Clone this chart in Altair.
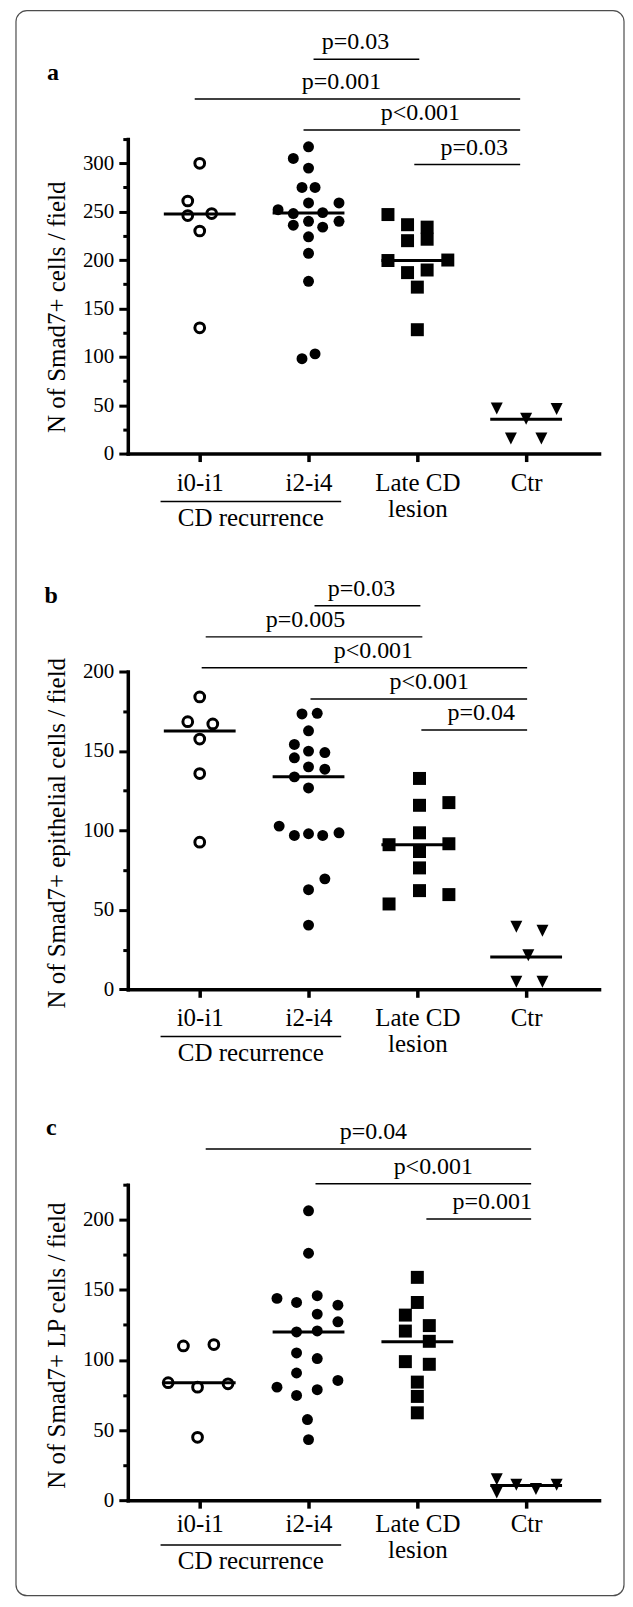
import json
import altair as alt
import pandas as pd

FONT = "Liberation Serif"
INK = "black"

# ---------------- shared categories ----------------
category_labels = ["i0-i1", "i2-i4", "Late CD|lesion", "Ctr"]
group_label = "CD recurrence"
group_span = [0.64, 2.30]          # underline under i0-i1 .. i2-i4
X_LO, X_HI = 0.339, 4.67
HALF_MEDIAN = 0.33

# ---------------- panel a ----------------
a_title = "N of Smad7+ cells / field"
a_i01 = [300, 261, 246, 248, 230, 130]
a_i01_off = [0, -0.11, -0.11, 0.11, 0, 0]
a_i24 = [317, 305, 295, 275, 275, 259, 259, 252, 248, 249, 240, 236, 234, 240, 224, 207, 178, 98, 103]
a_i24_off = [0, -0.14, 0, -0.06, 0.06, 0, 0.28, -0.28, -0.14, 0.13, 0, -0.14, 0.13, 0.28, 0, 0, 0, -0.06, 0.06]
a_late = [247, 236.5, 234, 221.5, 220, 199.5, 200, 187, 189.7, 172, 128]
a_late_off = [-0.27, -0.09, 0.09, 0.09, -0.09, -0.27, 0.28, -0.09, 0.09, 0, 0]
a_ctr = [46.5, 36, 46, 15.5, 15.5]
a_ctr_off = [-0.27, 0, 0.28, -0.14, 0.14]
a_medians = [247.5, 248.5, 199.5, 35.5]
a_p_text = ["p=0.03", "p=0.001", "p<0.001", "p=0.03"]
a_p_from = [2.046, 0.954, 1.954, 2.972]
a_p_to = [3.018, 3.945, 3.945, 3.945]
a_p_level = [407.6, 366.3, 334.3, 298.6]
a_p_textx = [2.431, 2.303, 3.028, 3.523]

# ---------------- panel b ----------------
b_title = "N of Smad7+ epithelial cells / field"
b_i01 = [184, 168.4, 167, 157.5, 135.8, 92.6]
b_i01_off = [0, -0.11, 0.12, 0, 0, 0]
b_i24 = [173.3, 173.7, 162.7, 154.1, 149.9, 149, 145.7, 140, 138.5, 133.7, 126.7,
         102.7, 96.8, 97.9, 96.8, 98.5, 69.5, 62.7, 40.4]
b_i24_off = [-0.06, 0.08, 0, -0.13, 0, 0.15, -0.13, 0, 0.15, -0.13, 0,
             -0.27, -0.13, 0, 0.13, 0.28, 0.15, 0, 0]
b_late = [132.7, 117.5, 115.8, 98.5, 91, 91.6, 86.7, 76.4, 62.1, 59.6, 53.7]
b_late_off = [0.02, 0.29, 0.02, 0.02, -0.26, 0.29, 0.02, 0.02, 0.02, 0.29, -0.26]
b_ctr = [39.4, 36.8, 21.5, 4.8, 4.8]
b_ctr_off = [-0.09, 0.15, 0.02, -0.09, 0.15]
b_medians = [162.5, 133.7, 91, 20.4]
b_p_text = ["p=0.03", "p=0.005", "p<0.001", "p<0.001", "p=0.04"]
b_p_from = [2.055, 1.055, 1.018, 2.018, 3.037]
b_p_to = [3.028, 3.046, 4.009, 4.009, 4.009]
b_p_level = [241.4, 221.8, 202.3, 182.7, 163.2]
b_p_textx = [2.486, 1.972, 2.596, 3.11, 3.587]

# ---------------- panel c ----------------
c_title = "N of Smad7+ LP cells / field"
c_i01 = [110, 111, 83.8, 80.6, 83, 44.8]
c_i01_off = [-0.15, 0.13, -0.29, -0.02, 0.26, -0.02]
c_i24 = [206.4, 176.1, 143.9, 141, 145.8, 139.1, 132.7, 127.2, 120, 120.7,
         105, 101, 90.7, 80.6, 85.4, 74.7, 78.8, 57.5, 43.2]
c_i24_off = [0, 0, -0.29, -0.11, 0.08, 0.27, 0.08, 0.27, -0.11, 0.08,
             -0.11, 0.08, -0.11, -0.29, 0.27, -0.11, 0.08, -0.01, 0]
c_late = [158.9, 141, 132, 124.5, 120.6, 113.3, 98.8, 96.9, 84.2, 74, 62.3]
c_late_off = [0, 0, -0.11, 0.11, -0.11, 0.11, -0.11, 0.11, 0, 0, 0]
c_ctr = [15, 5.5, 11, 7.9, 11]
c_ctr_off = [-0.27, -0.27, -0.09, 0.09, 0.28]
c_medians = [83.8, 120, 112.9, 10.5]
c_p_text = ["p=0.04", "p<0.001", "p=0.001"]
c_p_from = [1.055, 2.064, 3.083]
c_p_to = [4.046, 4.046, 4.046]
c_p_level = [250.5, 225.7, 200.5]
c_p_textx = [2.596, 3.147, 3.688]

TRIANGLE_DOWN = "M-1,-1L1,-1L0,1Z"


def panel(letter, title, groups, medians, p_text, p_from, p_to, p_level, p_textx,
          ymax, height, title_y, xlab_pad, ul_dy, rec_dy, lx, ly, frame=False):
    rows = []
    for g, (vals, offs) in enumerate(groups, start=1):
        for v, o in zip(vals, offs):
            rows.append({"g": g, "v": v, "xpos": g + o})
    df = pd.DataFrame(rows)

    cats_js = json.dumps(category_labels)
    xaxis = alt.Axis(
        values=[1, 2, 3, 4], title=None, grid=False,
        labelExpr=f"split({cats_js}[datum.value - 1], '|')",
        labelFont=FONT, labelFontSize=25, labelColor=INK, labelPadding=xlab_pad,
        labelBaseline="alphabetic", labelLineHeight=26, labelOverlap=False, labelFlush=False,
        tickSize=8, tickWidth=3.5, tickColor=INK, domainWidth=3.5, domainColor=INK,
        domainCap="square",
    )
    yaxis = alt.Axis(
        values=list(range(0, int(ymax) + 1, 25)), title=title, grid=False,
        labelExpr="datum.value % 50 === 0 ? datum.label : ''",
        labelFont=FONT, labelFontSize=21, labelColor=INK, labelPadding=5,
        labelOverlap=False, labelFlush=False,
        tickSize={"condition": {"test": "datum.value % 50 === 0", "value": 9}, "value": 5},
        tickWidth=3, tickColor=INK, domainWidth=3.5, domainColor=INK, domainCap="square",
        titleFont=FONT, titleFontSize=25, titleFontWeight="normal", titleColor=INK,
        titleX=-63, titleY=title_y, titleBaseline="alphabetic", titleAlign="center",
        titleAngle=270,
    )
    xs = alt.Scale(domain=[X_LO, X_HI], nice=False, zero=False)
    ys = alt.Scale(domain=[0, ymax], nice=False)

    def X(f):
        return alt.X(f, type="quantitative", scale=xs, axis=xaxis)

    def Y(f):
        return alt.Y(f, type="quantitative", scale=ys, axis=yaxis)

    layers = []
    if frame:
        layers.append(
            alt.Chart(pd.DataFrame({"k": [0]})).mark_rect(
                fillOpacity=0, stroke="#4d4d4d", strokeWidth=1.2, cornerRadius=11
            ).encode(x=alt.value(-112), x2=alt.value(497), y=alt.value(-128.7), y2=alt.value(1459))
        )
    layers.append(
        alt.Chart(df[df.g == 1]).mark_point(
            shape="circle", filled=False, size=95, strokeWidth=3, color=INK, opacity=1
        ).encode(x=X("xpos"), y=Y("v"))
    )
    layers.append(
        alt.Chart(df[df.g == 2]).mark_circle(size=120, color=INK, opacity=1)
        .encode(x=X("xpos"), y=Y("v"))
    )
    layers.append(
        alt.Chart(df[df.g == 3]).mark_square(size=169, color=INK, opacity=1)
        .encode(x=X("xpos"), y=Y("v"))
    )
    layers.append(
        alt.Chart(df[df.g == 4]).mark_point(
            shape=TRIANGLE_DOWN, filled=True, size=144, color=INK, opacity=1
        ).encode(x=X("xpos"), y=Y("v"))
    )
    med = pd.DataFrame({
        "lo": [g - HALF_MEDIAN for g in range(1, 5)],
        "hi": [g + HALF_MEDIAN for g in range(1, 5)],
        "m": medians,
    })
    layers.append(
        alt.Chart(med).mark_rule(strokeWidth=3, color=INK)
        .encode(x=X("lo"), x2="hi:Q", y=Y("m"))
    )
    pv = pd.DataFrame({"a": p_from, "b": p_to, "lvl": p_level, "tx": p_textx, "t": p_text})
    layers.append(
        alt.Chart(pv).mark_rule(strokeWidth=1.5, color=INK)
        .encode(x=X("a"), x2="b:Q", y=Y("lvl"))
    )
    layers.append(
        alt.Chart(pv).mark_text(
            dy=-10, baseline="alphabetic", align="center", font=FONT, fontSize=24, color=INK
        ).encode(x=X("tx"), y=Y("lvl"), text="t:N")
    )
    grp = pd.DataFrame({"lo": [group_span[0]], "hi": [group_span[1]],
                        "mid": [(group_span[0] + group_span[1]) / 2], "t": [group_label]})
    layers.append(
        alt.Chart(grp).mark_rule(strokeWidth=1.5, color=INK)
        .encode(x=X("lo"), x2="hi:Q", y=alt.value(height + ul_dy))
    )
    layers.append(
        alt.Chart(grp).mark_text(
            baseline="alphabetic", align="center", font=FONT, fontSize=25, color=INK
        ).encode(x=X("mid"), y=alt.value(height + rec_dy), text="t:N")
    )
    layers.append(
        alt.Chart(pd.DataFrame({"t": [letter]})).mark_text(
            baseline="alphabetic", align="left", font=FONT, fontSize=24,
            fontWeight="bold", color=INK
        ).encode(x=alt.value(lx), y=alt.value(ly), text="t:N")
    )
    return alt.layer(*layers).properties(width=472, height=height)


pa = panel("a", a_title,
           [(a_i01, a_i01_off), (a_i24, a_i24_off), (a_late, a_late_off), (a_ctr, a_ctr_off)],
           a_medians, a_p_text, a_p_from, a_p_to, a_p_level, a_p_textx,
           ymax=325, height=315, title_y=168, xlab_pad=29, ul_dy=48, rec_dy=73,
           lx=-81, ly=-58.7, frame=True)
pb = panel("b", b_title,
           [(b_i01, b_i01_off), (b_i24, b_i24_off), (b_late, b_late_off), (b_ctr, b_ctr_off)],
           b_medians, b_p_text, b_p_from, b_p_to, b_p_level, b_p_textx,
           ymax=200, height=318.3, title_y=161.5, xlab_pad=28, ul_dy=47.4, rec_dy=72,
           lx=-83.4, ly=-69)
pc = panel("c", c_title,
           [(c_i01, c_i01_off), (c_i24, c_i24_off), (c_late, c_late_off), (c_ctr, c_ctr_off)],
           c_medians, c_p_text, c_p_from, c_p_to, c_p_level, c_p_textx,
           ymax=225, height=316, title_y=160.7, xlab_pad=23, ul_dy=45, rec_dy=69,
           lx=-82, ly=-50)

inner = alt.vconcat(pb, pc, spacing=195, bounds="flush")
chart = alt.vconcat(pa, inner, spacing=218.3, bounds="flush").properties(
    padding={"left": 7, "top": 0, "right": 0, "bottom": 0},
    background="white",
).configure_view(stroke=None)

chart.save("out.html", embed_options={"renderer": "svg", "actions": False})
